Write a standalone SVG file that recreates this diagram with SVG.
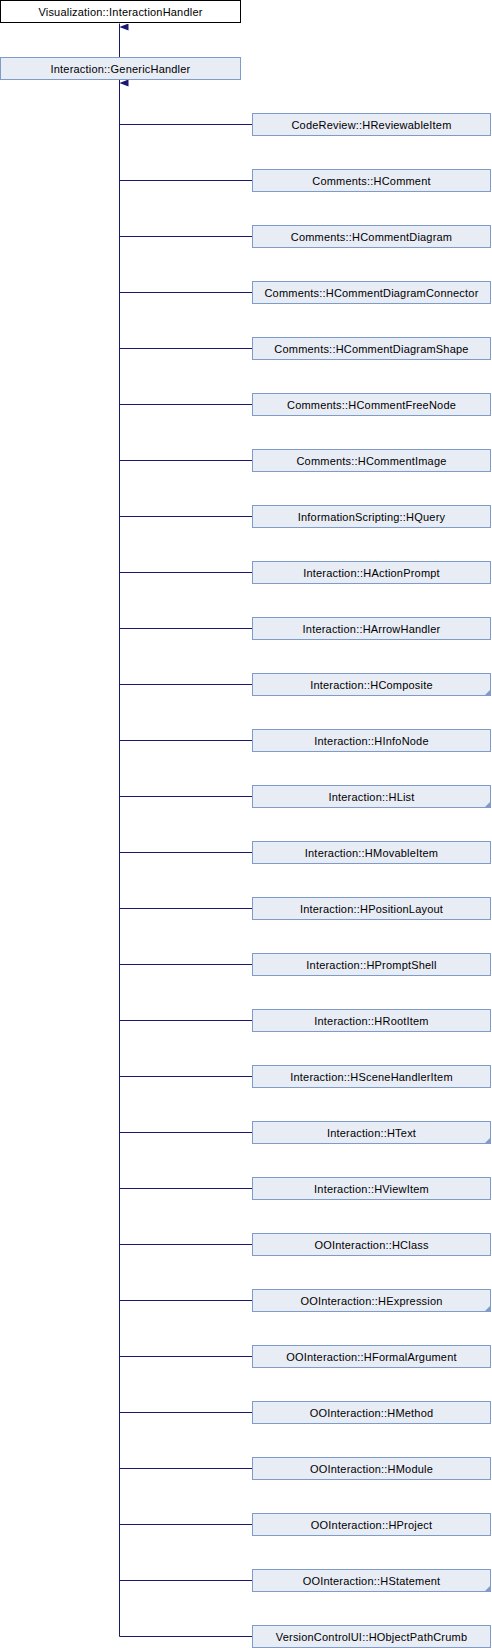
<svg xmlns="http://www.w3.org/2000/svg" width="492" height="1648" viewBox="0 0 492 1648">
<style>
.n rect{fill:#e8ecf5;stroke:#7f9bc9;stroke-width:1}
.t rect{fill:#ffffff;stroke:#000000;stroke-width:1}
text{font-family:"Liberation Sans",Arial,sans-serif;font-size:11px;letter-spacing:0.2px;fill:#000;text-anchor:middle}
.e{stroke:#191970;stroke-width:1;fill:none}
.m{fill:#7f9bc9;stroke:none}
</style>
<defs>
<marker id="ah" markerWidth="7" markerHeight="9" refX="3.5" refY="0" orient="auto" markerUnits="userSpaceOnUse" viewBox="-3.5 0 7 9"><polygon points="0,0 3.5,9 -3.5,9" fill="#191970"/></marker>
</defs>
<g id="edges">
<line class="e" x1="119.5" y1="57" x2="119.5" y2="23.5" marker-end="url(#ah)"/>
<path class="e" d="M119.5,1636.5 V79.5" marker-end="url(#ah)"/>
<path class="e" d="M119.5,124.5H252M119.5,180.5H252M119.5,236.5H252M119.5,292.5H252M119.5,348.5H252M119.5,404.5H252M119.5,460.5H252M119.5,516.5H252M119.5,572.5H252M119.5,628.5H252M119.5,684.5H252M119.5,740.5H252M119.5,796.5H252M119.5,852.5H252M119.5,908.5H252M119.5,964.5H252M119.5,1020.5H252M119.5,1076.5H252M119.5,1132.5H252M119.5,1188.5H252M119.5,1244.5H252M119.5,1300.5H252M119.5,1356.5H252M119.5,1412.5H252M119.5,1468.5H252M119.5,1524.5H252M119.5,1580.5H252M119.5,1636.5H252"/>
</g>
<g id="n0" class="t"><rect x="0.5" y="0.5" width="240" height="22"/><text x="120.5" y="15.5">Visualization::InteractionHandler</text></g>
<g id="n1" class="n"><rect x="0.5" y="57.5" width="240" height="22"/><text x="120.5" y="72.5">Interaction::GenericHandler</text></g>
<g id="c0" class="n"><rect x="252.5" y="113.5" width="238" height="22"/><text x="371.5" y="128.5">CodeReview::HReviewableItem</text></g>
<g id="c1" class="n"><rect x="252.5" y="169.5" width="238" height="22"/><text x="371.5" y="184.5">Comments::HComment</text></g>
<g id="c2" class="n"><rect x="252.5" y="225.5" width="238" height="22"/><text x="371.5" y="240.5">Comments::HCommentDiagram</text></g>
<g id="c3" class="n"><rect x="252.5" y="281.5" width="238" height="22"/><text x="371.5" y="296.5">Comments::HCommentDiagramConnector</text></g>
<g id="c4" class="n"><rect x="252.5" y="337.5" width="238" height="22"/><text x="371.5" y="352.5">Comments::HCommentDiagramShape</text></g>
<g id="c5" class="n"><rect x="252.5" y="393.5" width="238" height="22"/><text x="371.5" y="408.5">Comments::HCommentFreeNode</text></g>
<g id="c6" class="n"><rect x="252.5" y="449.5" width="238" height="22"/><text x="371.5" y="464.5">Comments::HCommentImage</text></g>
<g id="c7" class="n"><rect x="252.5" y="505.5" width="238" height="22"/><text x="371.5" y="520.5">InformationScripting::HQuery</text></g>
<g id="c8" class="n"><rect x="252.5" y="561.5" width="238" height="22"/><text x="371.5" y="576.5">Interaction::HActionPrompt</text></g>
<g id="c9" class="n"><rect x="252.5" y="617.5" width="238" height="22"/><text x="371.5" y="632.5">Interaction::HArrowHandler</text></g>
<g id="c10" class="n"><rect x="252.5" y="673.5" width="238" height="22"/><text x="371.5" y="688.5">Interaction::HComposite</text><polygon class="m" points="491,689 491,696 484,696"/></g>
<g id="c11" class="n"><rect x="252.5" y="729.5" width="238" height="22"/><text x="371.5" y="744.5">Interaction::HInfoNode</text></g>
<g id="c12" class="n"><rect x="252.5" y="785.5" width="238" height="22"/><text x="371.5" y="800.5">Interaction::HList</text><polygon class="m" points="491,801 491,808 484,808"/></g>
<g id="c13" class="n"><rect x="252.5" y="841.5" width="238" height="22"/><text x="371.5" y="856.5">Interaction::HMovableItem</text></g>
<g id="c14" class="n"><rect x="252.5" y="897.5" width="238" height="22"/><text x="371.5" y="912.5">Interaction::HPositionLayout</text></g>
<g id="c15" class="n"><rect x="252.5" y="953.5" width="238" height="22"/><text x="371.5" y="968.5">Interaction::HPromptShell</text></g>
<g id="c16" class="n"><rect x="252.5" y="1009.5" width="238" height="22"/><text x="371.5" y="1024.5">Interaction::HRootItem</text></g>
<g id="c17" class="n"><rect x="252.5" y="1065.5" width="238" height="22"/><text x="371.5" y="1080.5">Interaction::HSceneHandlerItem</text></g>
<g id="c18" class="n"><rect x="252.5" y="1121.5" width="238" height="22"/><text x="371.5" y="1136.5">Interaction::HText</text><polygon class="m" points="491,1137 491,1144 484,1144"/></g>
<g id="c19" class="n"><rect x="252.5" y="1177.5" width="238" height="22"/><text x="371.5" y="1192.5">Interaction::HViewItem</text></g>
<g id="c20" class="n"><rect x="252.5" y="1233.5" width="238" height="22"/><text x="371.5" y="1248.5">OOInteraction::HClass</text></g>
<g id="c21" class="n"><rect x="252.5" y="1289.5" width="238" height="22"/><text x="371.5" y="1304.5">OOInteraction::HExpression</text><polygon class="m" points="491,1305 491,1312 484,1312"/></g>
<g id="c22" class="n"><rect x="252.5" y="1345.5" width="238" height="22"/><text x="371.5" y="1360.5">OOInteraction::HFormalArgument</text></g>
<g id="c23" class="n"><rect x="252.5" y="1401.5" width="238" height="22"/><text x="371.5" y="1416.5">OOInteraction::HMethod</text></g>
<g id="c24" class="n"><rect x="252.5" y="1457.5" width="238" height="22"/><text x="371.5" y="1472.5">OOInteraction::HModule</text></g>
<g id="c25" class="n"><rect x="252.5" y="1513.5" width="238" height="22"/><text x="371.5" y="1528.5">OOInteraction::HProject</text></g>
<g id="c26" class="n"><rect x="252.5" y="1569.5" width="238" height="22"/><text x="371.5" y="1584.5">OOInteraction::HStatement</text><polygon class="m" points="491,1585 491,1592 484,1592"/></g>
<g id="c27" class="n"><rect x="252.5" y="1625.5" width="238" height="22"/><text x="371.5" y="1640.5">VersionControlUI::HObjectPathCrumb</text></g>
</svg>
